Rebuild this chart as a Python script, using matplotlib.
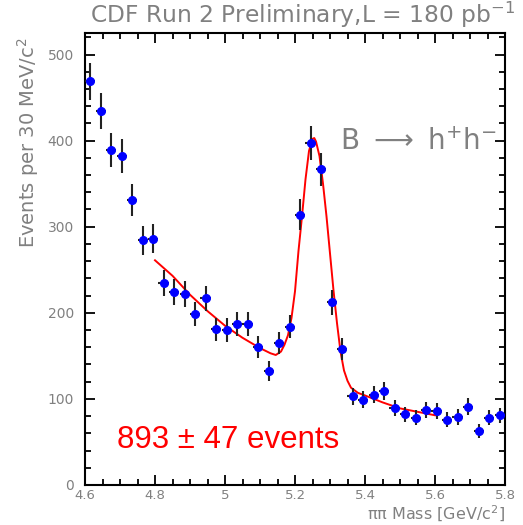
import matplotlib
matplotlib.use("Agg")
import matplotlib.pyplot as plt
from matplotlib.ticker import MultipleLocator, FuncFormatter
import numpy as np

# Data: pi-pi invariant mass, 30 MeV bins from 4.60 to 5.80 GeV
mass_lo = 4.60
bin_width = 0.03
counts = [469, 434, 389, 382, 331, 284, 286, 235, 224, 222,
          199, 217, 181, 180, 187, 187, 160, 132, 165, 184,
          314, 397, 367, 212, 158, 103, 99, 105, 109, 89,
          82, 78, 87, 86, 76, 79, 91, 63, 78, 81]
errors = [21.7, 20.8, 19.7, 19.5, 18.2, 16.9, 16.9, 15.3, 15.0, 14.9,
          14.1, 14.7, 13.5, 13.4, 13.7, 13.7, 12.6, 11.5, 12.8, 13.6,
          17.7, 19.9, 19.2, 14.6, 12.6, 10.1, 9.9, 10.2, 10.4, 9.4,
          9.1, 8.8, 9.3, 9.3, 8.7, 8.9, 9.5, 7.9, 8.8, 9.0]

# fit curve
fit_mass = [4.80, 4.85, 4.90, 4.95, 5.00, 5.05, 5.10, 5.13, 5.145, 5.16,
            5.17, 5.18, 5.19, 5.20, 5.21, 5.22, 5.23, 5.24, 5.25, 5.255,
            5.26, 5.27, 5.28, 5.29, 5.30, 5.31, 5.32, 5.33, 5.34, 5.35,
            5.36, 5.38, 5.40, 5.45, 5.50, 5.55, 5.60]
fit_vals = [261, 243, 221, 202, 185, 171, 159, 153, 151, 155,
            163, 174, 194, 225, 272, 312, 355, 388, 402, 403,
            399, 382, 350, 312, 269, 226, 188, 155, 133, 121,
            113, 107, 104, 96, 89, 85, 81]

centers = mass_lo + bin_width * (np.arange(len(counts)) + 0.5)

grey = '#808080'

fig = plt.figure(figsize=(5.23, 5.25), dpi=100)
ax = fig.add_axes([85/523, 1-485/525, 420/523, 452/525])

ax.plot(fit_mass, fit_vals, color='red', lw=1.4, zorder=2)
ax.errorbar(centers, counts, yerr=errors, xerr=bin_width/2, fmt='o',
            color='blue', ms=5.5, mec='blue', ecolor='#222222',
            elinewidth=1.5, capsize=0, zorder=3)

ax.set_xlim(4.6, 5.8)
ax.set_ylim(0, 525)
ax.xaxis.set_major_locator(MultipleLocator(0.2))
ax.xaxis.set_minor_locator(MultipleLocator(0.05))
ax.yaxis.set_major_locator(MultipleLocator(100))
ax.yaxis.set_minor_locator(MultipleLocator(20))
ax.xaxis.set_major_formatter(FuncFormatter(lambda v, p: '%g' % round(v, 2)))
ax.tick_params(which='both', direction='in', top=True, right=True,
               width=1.3, labelsize=10, labelcolor=grey)
ax.tick_params(which='major', length=7)
ax.tick_params(which='minor', length=4)
ax.tick_params(axis='x', pad=3, labelsize=9.5)
ax.tick_params(axis='y', pad=8)
for s in ax.spines.values():
    s.set_linewidth(1.5)

fig.text(303/523, 1-15/525, 'CDF Run 2 Preliminary,L = 180 pb$^{-1}$',
         ha='center', va='center', fontsize=16.8, color=grey)
fig.text(28/523, 1-37/525, 'Events per 30 MeV/c$^{2}$', rotation=90,
         ha='center', va='top', fontsize=14, color=grey)
fig.text(505/523, 1-514/525, u'\u03c0\u03c0 Mass [GeV/c$^{2}$]',
         ha='right', va='center', fontsize=11.5, color=grey)
fig.text(340/523, 1-150/525, r'B $\longrightarrow$ h$^{+}$h$^{-}$',
         ha='left', va='baseline', fontsize=20, color=grey)
fig.text(117/523, 1-448/525, u'893 \u00b1 47 events', family='Liberation Sans',
         ha='left', va='baseline', fontsize=22.5, color='red')

fig.savefig('out.png', dpi=100)
